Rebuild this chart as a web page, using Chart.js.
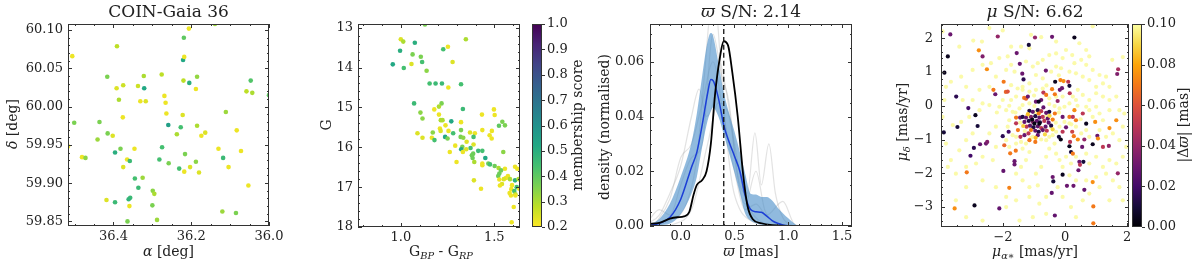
<!DOCTYPE html>
<html>
<head>
<meta charset="utf-8">
<script src="https://cdn.jsdelivr.net/npm/chart.js@4.4.0/dist/chart.umd.min.js"></script>
<style>
  body { margin: 0; background: #fff; }
  #wrap { position: relative; width: 1200px; height: 265px; }
  #wrap canvas { position: absolute; left: 0; top: 0; }
</style>
</head>
<body>
<div id="wrap">
  <canvas id="sky" width="1200" height="265"></canvas>
  <canvas id="cmd" width="1200" height="265"></canvas>
  <canvas id="cmdBar" width="1200" height="265"></canvas>
  <canvas id="plx" width="1200" height="265"></canvas>
  <canvas id="pm" width="1200" height="265"></canvas>
  <canvas id="pmBar" width="1200" height="265"></canvas>
</div>
<script>
// ---------- data ----------

// panel 1: sky positions, [ra, dec, membership score]
const skyStars = [
  [36.506,60.066,0.22],[36.391,60.079,0.28],[36.206,60.102,0.22],[36.139,60.108,0.32],
  [36.219,60.090,0.40],[36.221,60.061,0.52],[36.218,60.065,0.22],[36.416,60.039,0.36],
  [36.322,60.040,0.30],[36.276,60.042,0.28],[36.220,60.034,0.28],[36.205,60.031,0.50],
  [36.185,60.039,0.33],[36.047,60.034,0.42],[36.392,60.024,0.24],[36.375,60.028,0.26],
  [36.337,60.027,0.26],[36.321,60.024,0.52],[36.188,60.023,0.22],[36.058,60.020,0.28],
  [36.043,60.018,0.30],[36.000,60.015,0.40],[36.269,60.014,0.22],[36.386,60.009,0.30],
  [36.331,60.007,0.22],[36.317,60.007,0.24],[36.266,60.005,0.22],[36.264,59.991,0.22],
  [36.376,59.986,0.22],[36.222,59.989,0.24],[36.111,59.993,0.32],[36.501,59.979,0.36],
  [36.436,59.980,0.36],[36.259,59.976,0.55],[36.227,59.973,0.44],[36.185,59.975,0.30],
  [36.083,59.969,0.22],[36.415,59.965,0.36],[36.402,59.962,0.24],[36.237,59.964,0.30],
  [36.174,59.962,0.22],[36.164,59.966,0.24],[36.441,59.957,0.32],[36.517,59.948,0.22],
  [36.382,59.945,0.36],[36.346,59.945,0.22],[36.275,59.947,0.44],[36.130,59.945,0.22],
  [36.396,59.940,0.50],[36.216,59.938,0.36],[36.481,59.934,0.22],[36.472,59.933,0.34],
  [36.118,59.933,0.46],[36.072,59.942,0.22],[36.365,59.931,0.22],[36.358,59.929,0.46],
  [36.282,59.931,0.44],[36.258,59.926,0.36],[36.188,59.928,0.34],[36.375,59.921,0.24],
  [36.231,59.919,0.44],[36.203,59.921,0.24],[36.218,59.915,0.22],[36.180,59.914,0.24],
  [36.104,59.921,0.22],[36.325,59.907,0.32],[36.345,59.906,0.44],[36.336,59.894,0.46],
  [36.053,59.897,0.22],[36.299,59.890,0.34],[36.295,59.886,0.30],[36.418,59.878,0.24],
  [36.396,59.875,0.46],[36.357,59.881,0.46],[36.361,59.879,0.48],[36.359,59.870,0.22],
  [36.300,59.871,0.36],[36.120,59.863,0.32],[36.085,59.861,0.36],[36.364,59.850,0.36],
  [36.288,59.852,0.32]
];
const raTicks = [36.4, 36.2, 36.0];
const decTicks = [59.85, 59.90, 59.95, 60.00, 60.05, 60.10];

// panel 2: colour-magnitude diagram, [BP-RP, G, membership score]
const cmdStars = [
  [1.129,12.92,0.36],[1.000,13.29,0.24],[1.013,13.35,0.30],[1.075,13.38,0.50],[1.348,13.29,0.30],
  [1.252,13.48,0.22],[1.227,13.54,0.44],[0.996,13.58,0.50],[1.063,13.67,0.36],[1.107,13.73,0.36],
  [1.114,13.86,0.44],[1.277,13.86,0.24],[0.957,13.92,0.52],[1.057,13.91,0.24],[1.016,14.01,0.44],
  [1.138,14.08,0.34],[1.154,14.40,0.44],[1.186,14.40,0.46],[1.220,14.40,0.46],[1.254,14.50,0.22],
  [1.322,14.42,0.44],[1.071,14.90,0.46],[1.218,14.90,0.36],[1.204,14.98,0.30],[1.179,15.05,0.22],
  [1.332,15.04,0.46],[1.498,15.05,0.22],[1.105,15.13,0.34],[1.204,15.18,0.22],[1.434,15.18,0.22],
  [1.502,15.19,0.22],[1.116,15.28,0.34],[1.214,15.32,0.30],[1.223,15.32,0.30],[1.270,15.35,0.52],
  [1.322,15.37,0.22],[1.543,15.36,0.36],[1.557,15.45,0.36],[1.239,15.45,0.22],[1.525,15.46,0.40],
  [1.209,15.53,0.22],[1.213,15.59,0.24],[1.255,15.59,0.22],[1.322,15.57,0.36],[1.436,15.57,0.22],
  [1.487,15.59,0.22],[1.171,15.63,0.34],[1.280,15.65,0.44],[1.089,15.65,0.24],[1.370,15.63,0.24],
  [1.396,15.65,0.22],[1.475,15.70,0.22],[1.237,15.74,0.52],[1.320,15.74,0.36],[1.334,15.76,0.34],
  [1.389,15.74,0.44],[1.166,15.76,0.22],[1.116,15.76,0.24],[1.250,15.78,0.36],[1.180,15.82,0.44],
  [1.486,15.78,0.22],[1.352,15.86,0.24],[1.389,15.93,0.24],[1.291,15.96,0.22],[1.329,15.99,0.36],
  [1.373,16.02,0.44],[1.323,16.05,0.52],[1.350,16.05,0.24],[1.332,16.12,0.22],[1.414,16.09,0.46],
  [1.436,16.09,0.44],[1.548,16.12,0.34],[1.262,16.12,0.22],[1.387,16.16,0.38],[1.380,16.20,0.38],
  [1.384,16.27,0.38],[1.452,16.27,0.52],[1.393,16.37,0.30],[1.298,16.37,0.22],[1.436,16.41,0.22],
  [1.468,16.41,0.38],[1.477,16.43,0.44],[1.502,16.47,0.38],[1.436,16.45,0.22],[1.523,16.52,0.30],
  [1.557,16.54,0.22],[1.536,16.58,0.38],[1.611,16.49,0.22],[1.623,16.54,0.22],[1.527,16.66,0.38],
  [1.521,16.72,0.38],[1.573,16.72,0.22],[1.562,16.77,0.22],[1.551,16.80,0.24],[1.584,16.80,0.30],
  [1.611,16.83,0.50],[1.630,16.80,0.30],[1.391,16.83,0.24],[1.527,16.81,0.22],[1.541,16.92,0.24],
  [1.530,16.96,0.22],[1.595,16.95,0.22],[1.620,17.00,0.44],[1.634,17.04,0.22],[1.591,17.05,0.22],
  [1.429,17.04,0.22],[1.607,17.10,0.44],[1.582,17.15,0.22],[1.613,17.18,0.30],[1.589,17.21,0.22],
  [1.613,17.21,0.22],[1.604,17.50,0.22],[1.593,17.88,0.22]
];
const bprpTicks = [1.0, 1.5];
const gTicks = [13, 14, 15, 16, 17, 18];
const scoreTicks = [0.2, 0.3, 0.4, 0.5, 0.6, 0.7, 0.8, 0.9, 1.0];

// panel 3: parallax densities
const plxGrid    = [-0.3, -0.2, -0.1, 0.0, 0.1, 0.15, 0.2, 0.25, 0.28, 0.3, 0.35, 0.4, 0.45, 0.5, 0.55, 0.6, 0.65, 0.7, 0.75, 0.8, 0.85, 0.9, 0.95, 1.0, 1.05, 1.1, 1.6];
const bandHigh   = [0.0005, 0.0026, 0.0082, 0.0180, 0.0305, 0.0412, 0.0550, 0.0675, 0.0705, 0.0695, 0.0597, 0.0488, 0.0412, 0.0345, 0.0270, 0.0190, 0.0118, 0.0115, 0.0106, 0.0106, 0.0093, 0.0068, 0.0047, 0.0028, 0.0011, 0.0, 0.0];
const bandLow    = [0.0, 0.0003, 0.0009, 0.0043, 0.0118, 0.0180, 0.0290, 0.0385, 0.0420, 0.0433, 0.0400, 0.0335, 0.0265, 0.0195, 0.0120, 0.0045, 0.0020, 0.0010, 0.0005, 0.0001, 0.0, 0.0, 0.0, 0.0, 0.0, 0.0, 0.0];
const bandMedian = [0.0001, 0.0010, 0.0032, 0.0098, 0.0215, 0.0270, 0.0370, 0.0485, 0.0535, 0.0532, 0.0468, 0.0368, 0.0307, 0.0255, 0.0200, 0.0110, 0.0060, 0.0052, 0.0050, 0.0036, 0.0020, 0.0010, 0.0004, 0.0001, 0.0, 0.0, 0.0];
const memberKdeX = [-0.3, -0.2, -0.1, -0.03, 0.03, 0.08, 0.12, 0.15, 0.2, 0.24, 0.28, 0.32, 0.36, 0.40, 0.44, 0.48, 0.53, 0.58, 0.62, 0.67, 0.75, 0.85, 1.0, 1.6];
const memberKdeY = [0.0008, 0.0011, 0.0027, 0.0032, 0.0035, 0.0052, 0.0115, 0.0150, 0.0168, 0.0200, 0.0300, 0.0484, 0.0605, 0.0675, 0.0660, 0.0560, 0.0400, 0.0190, 0.0075, 0.0025, 0.0010, 0.0003, 0.0, 0.0];
const bootstrapKdes = [
  [[-0.3,0],[-0.1,0.002],[0.05,0.008],[0.15,0.025],[0.22,0.055],[0.28,0.08],[0.32,0.082],[0.37,0.06],[0.42,0.035],[0.48,0.015],[0.55,0.006],[0.65,0.002],[0.8,0]],
  [[-0.3,0.001],[-0.2,0.004],[-0.1,0.012],[0.0,0.022],[0.1,0.04],[0.17,0.05],[0.24,0.04],[0.3,0.045],[0.36,0.06],[0.42,0.05],[0.5,0.03],[0.6,0.01],[0.7,0.003],[0.85,0]],
  [[-0.1,0],[0.1,0.006],[0.25,0.03],[0.35,0.045],[0.45,0.04],[0.55,0.015],[0.62,0.012],[0.69,0.034],[0.75,0.015],[0.82,0.030],[0.88,0.012],[0.95,0.003],[1.05,0]],
  [[-0.25,0],[-0.1,0.01],[0.0,0.025],[0.1,0.03],[0.2,0.045],[0.3,0.06],[0.4,0.04],[0.5,0.02],[0.6,0.006],[0.7,0.008],[0.8,0.004],[0.95,0.009],[1.05,0.001],[1.1,0]],
  [[-0.3,0.002],[-0.2,0.006],[-0.1,0.004],[0.0,0.015],[0.1,0.025],[0.2,0.03],[0.3,0.07],[0.38,0.055],[0.45,0.045],[0.52,0.02],[0.6,0.008],[0.7,0.02],[0.78,0.006],[0.9,0]]
];
const plxMean = 0.40;
const plxTicks = [0.0, 0.5, 1.0, 1.5];
const densityTicks = [0.00, 0.02, 0.04, 0.06];

// panel 4: proper motions, [pmra, pmdec, |delta plx|]
const pmColoured = [
  [-3.70,2.11,0.03],[-3.78,1.46,0.005],[-3.89,0.98,0.005],[-3.91,-0.79,0.01],[-3.51,0.27,0.015],
  [-3.47,-0.63,0.01],[-3.12,-0.07,0.02],[-2.89,-0.28,0.005],[-2.82,-0.60,0.01],[-3.05,-1.48,0.02],
  [-2.66,1.46,0.035],[-2.78,1.64,0.075],[-2.52,1.08,0.075],[-2.74,-1.14,0.028],[-2.55,-1.12,0.03],
  [-2.51,-1.07,0.035],[-2.94,-1.25,0.015],[-3.17,-1.97,0.07],[-3.56,-3.04,0.075],[-2.92,-2.95,0.005],
  [-2.17,2.05,0.04],[-2.12,-3.04,0.028],[-1.98,0.71,0.07],[-1.91,0.41,0.065],[-1.85,0.42,0.06],
  [-2.25,0.34,0.03],[-2.31,0.47,0.07],[-2.01,-0.90,0.015],[-1.99,-1.93,0.028],[-1.96,-1.17,0.065],
  [-1.77,-1.41,0.07],[-1.80,-2.43,0.072],[-1.82,-0.77,0.02],[-1.63,-1.64,0.03],[-1.63,-1.74,0.03],
  [-1.56,1.56,0.03],[-1.46,1.24,0.03],[-1.38,0.95,0.03],[-1.34,0.78,0.015],[-1.17,1.80,0.01],
  [-0.97,2.02,0.04],[-0.42,2.04,0.03],[0.30,2.02,0.005],[-0.62,1.04,0.03],[-0.32,0.71,0.005],
  [-1.52,-0.72,0.07],[-1.58,-0.52,0.05],[-1.58,-0.35,0.07],[-1.45,-0.35,0.03],[-1.32,0.23,0.07],
  [-1.26,0.21,0.065],[-1.20,0.27,0.03],[-1.44,-0.92,0.05],[-1.31,-0.87,0.03],[-1.18,-0.82,0.05],
  [-1.15,-1.02,0.07],[-0.96,-1.07,0.07],[-0.77,0.17,0.03],[-0.94,0.12,0.03],[-0.85,0.12,0.005],
  [-0.70,0.39,0.05],[-0.61,0.32,0.07],[-0.42,0.49,0.072],[-0.33,0.34,0.07],[-0.15,0.76,0.072],
  [-0.05,0.73,0.075],[0.10,0.71,0.05],[0.14,0.59,0.01],[-0.10,0.52,0.03],[0.15,0.37,0.05],
  [-0.17,0.47,0.03],[-0.24,0.14,0.04],[-0.33,-0.23,0.07],[-0.08,-0.33,0.03],[0.14,-0.33,0.07],
  [0.25,-0.33,0.05],[0.35,-0.43,0.07],[0.30,-0.13,0.075],[0.57,-0.23,0.05],[0.68,-0.53,0.005],
  [0.97,-0.48,0.075],[-0.08,-0.77,0.05],[0.03,-0.64,0.03],[-0.20,-0.92,0.01],[-0.14,-1.00,0.003],
  [0.16,-1.07,0.05],[0.23,-0.77,0.055],[0.28,-0.90,0.07],[0.14,-1.20,0.005],[0.41,-1.00,0.075],
  [0.55,-1.22,0.03],[0.62,-1.00,0.04],[0.89,-1.14,0.005],[1.04,-0.89,0.03],[1.06,-0.97,0.075],
  [0.19,-1.37,0.01],[0.25,-1.42,0.07],[0.46,-1.66,0.03],[0.48,-1.75,0.05],[0.43,-1.91,0.03],
  [0.59,-1.66,0.01],[-0.08,-2.04,0.005],[-0.40,-2.11,0.03],[-0.38,-2.24,0.01],[-0.43,-2.58,0.028],
  [-0.33,-3.25,0.028],[0.06,-2.37,0.03],[0.27,-2.37,0.03],[0.62,-2.49,0.028],[0.89,-2.26,0.075],
  [0.91,-2.98,0.07],[0.91,-3.48,0.07],[1.22,-1.22,0.05],[1.41,-1.19,0.04],[1.43,-0.66,0.075],
  [1.65,-0.43,0.075],[1.70,-2.00,0.04],[1.71,1.08,0.045],[1.68,0.94,0.035],[-1.59,-1.33,0.07],
  // dense core
  [-1.15,-0.15,0.012],[-1.04,-0.18,0.028],[-0.88,-0.13,0.012],[-0.77,-0.16,0.05],[-0.61,-0.21,0.028],
  [-0.51,-0.18,0.012],[-1.37,-0.33,0.012],[-1.26,-0.35,0.028],[-1.10,-0.33,0.038],[-0.96,-0.31,0.012],
  [-0.83,-0.35,0.028],[-0.72,-0.33,0.05],[-0.56,-0.38,0.028],[-0.40,-0.41,0.072],[-1.31,-0.48,0.028],
  [-1.17,-0.45,0.012],[-1.04,-0.48,0.038],[-0.91,-0.45,0.028],[-0.81,-0.49,0.012],[-0.67,-0.45,0.05],
  [-0.53,-0.50,0.028],[-1.24,-0.62,0.05],[-1.13,-0.59,0.028],[-1.02,-0.64,0.012],[-0.88,-0.61,0.028],
  [-0.77,-0.66,0.05],[-0.63,-0.62,0.028],[-0.45,-0.59,0.012],[-1.10,-0.72,0.072],[-0.96,-0.74,0.028],
  [-0.85,-0.77,0.012],[-0.72,-0.72,0.028],[-0.59,-0.74,0.05],[-0.88,-0.87,0.028],[-0.99,-0.53,0.003],
  [-0.83,-0.53,0.003],[-1.06,-0.41,0.003],[-0.85,-0.23,0.072],[-0.70,-0.05,0.028],
  [-1.20,-0.25,0.085],[-0.65,-0.85,0.09],[-1.35,-0.60,0.088],[-0.50,-0.30,0.09],[-0.95,-0.95,0.085],[-0.40,-0.70,0.09]
];
// stars with |delta plx| >= 0.1 (top of the colour scale)
const pmFaint = [
  [-3.95,2.20],[-2.44,2.30],[-2.01,2.23],[-2.96,1.93],[-3.41,1.75],[-2.68,1.90],[-1.10,2.10],[-0.77,2.03],
  [-0.29,1.90],[0.89,2.35],[0.68,1.65],[0.46,1.85],[0.23,1.50],[0.78,1.46],[1.52,1.36],[1.86,1.44],
  [-1.15,1.70],[-1.42,1.75],[-1.74,1.75],[-1.85,1.46],[-2.12,1.41],[-2.39,1.26],[-2.66,1.21],[-2.98,1.06],
  [-3.35,0.86],[-3.68,0.71],[-3.84,0.56],[-3.19,0.56],[-2.76,0.47],[-2.44,0.56],[-2.23,0.86],[-1.90,1.06],
  [-1.74,1.21],[-1.63,1.01],[-1.26,1.31],[-1.04,1.16],[-0.88,1.26],[-0.72,1.36],[-0.51,1.50],[-0.29,1.55],
  [-0.08,1.41],[0.03,1.65],[0.30,1.26],[0.52,1.36],[0.68,1.21],[0.89,1.06],[1.11,0.91],[1.32,0.86],
  [1.43,0.56],[1.22,0.66],[1.00,0.56],[0.78,0.76],[0.57,0.86],[0.35,0.96],[0.14,1.01],[-0.13,1.11],
  [-0.29,1.16],[-0.45,1.01],[-0.72,0.81],[-0.94,0.91],[-1.15,0.66],[-1.37,0.56],[-1.53,0.51],[-1.74,0.61],
  [-2.01,0.17],[-2.12,-0.03],[-2.44,0.02],[-2.76,-0.13],[-3.09,-0.33],[-3.35,-0.48],[-3.62,-0.57],[-3.84,-1.12],
  [-3.68,-1.61],[-3.78,-1.81],[-3.52,-2.01],[-3.19,-1.81],[-2.87,-1.71],[-2.66,-1.51],[-2.33,-1.61],[-2.23,-1.22],
  [-2.44,-0.82],[-2.23,-0.62],[-1.90,-1.02],[-1.80,-1.22],[-1.58,-1.12],[-1.37,-1.27],[-1.15,-1.37],[-1.26,-1.61],
  [-1.42,-1.81],[-1.58,-2.01],[-1.37,-2.21],[-1.15,-2.41],[-0.94,-2.01],[-0.77,-1.81],[-0.61,-1.51],[-0.51,-1.27],
  [-0.34,-1.12],[-0.29,-1.42],[-0.18,-1.61],[-0.08,-1.81],[0.03,-1.51],[0.19,-1.71],[0.35,-1.51],[0.68,-1.42],
  [0.78,-1.71],[1.00,-1.51],[1.22,-1.81],[1.43,-1.61],[1.65,-1.71],[1.86,-1.51],[1.97,-1.22],[1.75,-1.02],
  [1.54,-0.82],[1.32,-0.92],[1.11,-0.72],[1.22,-0.43],[1.43,-0.13],[1.75,-0.13],[1.91,-0.23],[1.86,-0.62],
  [1.65,0.27],[1.43,0.17],[1.22,0.27],[1.00,0.37],[0.78,0.17],[0.68,-0.03],[0.57,0.32],[0.41,0.47],
  [0.35,0.17],[0.78,-0.13],[1.00,-0.03],[1.11,-0.23],[0.89,-0.33],[0.52,-0.82],[0.68,-0.72],[0.78,-0.92],
  [0.35,-0.62],[0.14,-0.52],[-0.02,-0.48],[-0.18,-0.62],[-0.29,-0.77],[-0.40,-0.87],[-0.51,-0.92],[-0.61,-1.02],
  [-0.77,-1.00],[-1.04,-0.92],[-1.26,-1.12],[-1.42,-1.07],[-1.58,-0.92],[-1.69,-0.87],[-1.85,-0.62],[-1.80,-0.43],
  [-1.69,-0.18],[-1.47,-0.08],[-1.37,0.02],[-1.15,0.07],[-0.99,-0.01],[-0.51,0.05],[-0.34,-0.01],[-0.18,-0.08],
  [-0.02,-0.03],[0.14,0.07],[0.25,0.27],[-0.08,0.27],[-0.29,0.27],[-0.51,0.22],[-0.72,0.51],[-0.94,0.47],
  [-1.15,0.42],[-1.37,0.47],[-1.58,0.27],[-1.74,0.17],[-1.90,-0.13],[-3.52,-2.80],[-3.19,-2.41],[-2.66,-2.21],
  [-2.23,-2.41],[-1.90,-2.70],[-1.58,-2.80],[-1.15,-2.70],[-0.83,-2.90],[-0.61,-3.20],[-1.04,-3.30],[-1.47,-3.40],
  [-1.90,-3.00],[-2.66,-3.40],[-3.19,-3.30],[-0.08,-2.70],[0.19,-3.00],[0.35,-3.30],[0.57,-2.80],[0.78,-2.60],
  [1.11,-2.41],[1.43,-2.80],[1.86,-2.80],[1.75,-2.41],[1.54,-2.21],[1.32,-2.01],[1.00,-2.11],[0.68,-2.21],
  [0.35,-2.21],[0.14,-2.06],[-0.24,-2.41],[-0.61,-2.70],[-0.88,-2.36],[-2.98,-0.82],[-3.19,-1.02],[-3.41,-1.32],
  [-3.95,-0.33],[-3.89,0.17],[-3.30,0.17],[-2.98,0.17],[-2.66,0.07],
  [-1.20,-0.30],[-0.70,-0.70],[-1.30,-0.75],[-0.60,-0.30],[-0.95,-0.20],[-1.10,-0.95],[-0.45,-0.65],[-1.45,-0.50],
  [-0.30,-0.50],[-1.60,-0.20],[-0.20,-0.20],[-1.00,0.30],[-0.60,0.60],[-0.20,0.90],[0.40,0.00],[0.50,-0.40],
  [-1.80,0.00],[-2.20,-0.20],[0.20,-0.55]
];
const pmraTicks = [-2, 0, 2];
const pmdecTicks = [-3, -2, -1, 0, 1, 2];
const dplxTicks = [0.00, 0.02, 0.04, 0.06, 0.08, 0.10];

// ---------- colour maps ----------
const VIRIDIS = ['#440154','#482475','#414487','#355f8d','#2a788e','#21918c','#22a884','#44bf70','#7ad151','#bddf26','#fde725'];
const INFERNO = ['#000004','#160b39','#420a68','#6a176e','#932667','#bc3754','#dd513a','#f37819','#fca50a','#f6d746','#fcffa4'];

function hexRgb(h) {
  return [1, 3, 5].map(i => parseInt(h.slice(i, i + 2), 16));
}
function cmap(stops, t) {
  t = Math.min(1, Math.max(0, t));
  const n = stops.length - 1;
  const i = Math.min(n - 1, Math.floor(t * n));
  const f = t * n - i;
  const a = hexRgb(stops[i]), b = hexRgb(stops[i + 1]);
  const c = a.map((v, k) => Math.round(v + (b[k] - v) * f));
  return `rgb(${c[0]},${c[1]},${c[2]})`;
}
const scoreColour = s => cmap(VIRIDIS, 1 - (s - 0.2) / 0.8);
const dplxColour = v => cmap(INFERNO, v / 0.1);

// ---------- shared bits ----------
Chart.defaults.font.family = '"DejaVu Serif", serif';

const TEXT = '#222';
const SPINE = '#333';
const FONT = '"DejaVu Serif"';
const minus = v => (v < 0 ? '\u2212' + Math.abs(v) : String(v));

// scale with fixed tick list; labels and marks are drawn by the frame plugin
function axis(min, max, ticks, extra) {
  return Object.assign({
    type: 'linear',
    min: min,
    max: max,
    grid: { display: false, drawTicks: false },
    border: { display: false },
    ticks: { display: false },
    afterBuildTicks: s => { s.ticks = ticks.map(v => ({ value: v })); }
  }, extra);
}
const xFit = { afterFit: s => { s.height = 22; } };
const yFit = { afterFit: s => { s.width = 40; } };

// text with italic / subscript pieces
function drawRich(ctx, parts, x, y, size, rot) {
  ctx.save();
  ctx.translate(x, y);
  ctx.rotate(rot || 0);
  ctx.textBaseline = 'middle';
  ctx.textAlign = 'left';
  ctx.fillStyle = TEXT;
  const fontOf = p => (p.it ? 'italic ' : '') + (p.sub ? size * 0.7 : size) + 'px ' + FONT;
  let w = 0;
  parts.forEach(p => { ctx.font = fontOf(p); w += ctx.measureText(p.t).width; });
  let cx = -w / 2;
  parts.forEach(p => {
    ctx.font = fontOf(p);
    ctx.fillText(p.t, cx, p.sub ? size * 0.3 : 0);
    cx += ctx.measureText(p.t).width;
  });
  ctx.restore();
}

// matplotlib-like box: spines on four sides, inward ticks, tick labels, axis labels
function frame(cfg) {
  return {
    id: 'frame',
    beforeDatasetsDraw(chart) {
      if (!cfg.gradient) return;
      const { ctx, chartArea: a } = chart;
      const g = ctx.createLinearGradient(0, a.bottom, 0, a.top);
      cfg.gradient.forEach((c, i, arr) => g.addColorStop(i / (arr.length - 1), c));
      ctx.save();
      ctx.fillStyle = g;
      ctx.fillRect(a.left, a.top, a.right - a.left, a.bottom - a.top);
      ctx.restore();
    },
    afterDraw(chart) {
      const { ctx, chartArea: a, scales } = chart;
      ctx.save();
      ctx.strokeStyle = SPINE;
      ctx.lineWidth = 1;
      ctx.strokeRect(a.left + 0.5, a.top + 0.5, a.right - a.left - 1, a.bottom - a.top - 1);

      const tickSet = (scale, minor) => {
        const major = scale.ticks.map(t => t.value);
        const out = major.map(v => [v, 4]);
        if (minor) {
          const lo = Math.min(scale.min, scale.max), hi = Math.max(scale.min, scale.max);
          for (let k = Math.ceil(lo / minor - 1e-6); k * minor <= hi + 1e-9; k++) {
            const v = k * minor;
            if (!major.some(m => Math.abs(m - v) < minor / 10)) out.push([v, 2]);
          }
        }
        return out;
      };
      ctx.beginPath();
      if (!cfg.gradient) {
        tickSet(scales.x, cfg.xMinor).forEach(([v, len]) => {
          const p = Math.round(scales.x.getPixelForValue(v)) + 0.5;
          ctx.moveTo(p, a.bottom); ctx.lineTo(p, a.bottom - len);
          ctx.moveTo(p, a.top); ctx.lineTo(p, a.top + len);
        });
        tickSet(scales.y, cfg.yMinor).forEach(([v, len]) => {
          const p = Math.round(scales.y.getPixelForValue(v)) + 0.5;
          ctx.moveTo(a.left, p); ctx.lineTo(a.left + len, p);
          ctx.moveTo(a.right, p); ctx.lineTo(a.right - len, p);
        });
      } else {
        scales.y.ticks.forEach(t => {
          const p = Math.round(scales.y.getPixelForValue(t.value)) + 0.5;
          ctx.moveTo(a.right, p); ctx.lineTo(a.right + 3, p);
        });
      }
      ctx.stroke();

      // tick labels
      ctx.fillStyle = TEXT;
      ctx.font = '13px ' + FONT;
      ctx.textBaseline = 'middle';
      if (!cfg.gradient) {
        ctx.textAlign = 'center';
        scales.x.ticks.forEach(t => ctx.fillText(cfg.xFmt(t.value), scales.x.getPixelForValue(t.value), a.bottom + 11));
        ctx.textAlign = 'right';
        scales.y.ticks.forEach(t => ctx.fillText(cfg.yFmt(t.value), a.left - (cfg.yGap || 5), scales.y.getPixelForValue(t.value)));
      } else {
        ctx.textAlign = 'left';
        scales.y.ticks.forEach(t => ctx.fillText(cfg.yFmt(t.value), a.right + 5, scales.y.getPixelForValue(t.value)));
      }
      ctx.restore();

      (cfg.labels || []).forEach(l => drawRich(ctx, l.parts, l.x, l.y, l.size || 14, l.rot));
    }
  };
}

const base = (padding) => ({
  responsive: false,
  animation: false,
  events: [],
  devicePixelRatio: 1,
  layout: { padding: padding },
  plugins: { legend: { display: false }, tooltip: { enabled: false } }
});
const UP = -Math.PI / 2;

// ---------- panel 1: sky ----------
new Chart(document.getElementById('sky'), {
  type: 'scatter',
  data: {
    datasets: [{
      data: skyStars.map(s => ({ x: s[0], y: s[1] })),
      pointBackgroundColor: skyStars.map(s => scoreColour(s[2])),
      pointBorderWidth: 0,
      pointRadius: 2.3
    }]
  },
  options: Object.assign(base({ left: 28, top: 24, right: 931, bottom: 17 }), {
    scales: {
      x: axis(36.0, 36.517, raTicks, Object.assign({ reverse: true }, xFit)),
      y: axis(59.844, 60.108, decTicks, yFit)
    }
  }),
  plugins: [frame({
    xMinor: 0.05, yMinor: 0.01,
    xFmt: v => v.toFixed(1), yFmt: v => v.toFixed(2), yGap: 5,
    labels: [
      { parts: [{ t: 'COIN-Gaia 36' }], x: 168.5, y: 12.5, size: 17 },
      { parts: [{ t: '\u03b4', it: true }, { t: ' [deg]' }], x: 13, y: 124, rot: UP },
      { parts: [{ t: '\u03b1', it: true }, { t: ' [deg]' }], x: 168.5, y: 252 }
    ]
  })]
});

// ---------- panel 2: CMD ----------
new Chart(document.getElementById('cmd'), {
  type: 'scatter',
  data: {
    datasets: [{
      data: cmdStars.map(s => ({ x: s[0], y: s[1] })),
      pointBackgroundColor: cmdStars.map(s => scoreColour(s[2])),
      pointBorderWidth: 0,
      pointRadius: 2.3
    }]
  },
  options: Object.assign(base({ left: 318, top: 24, right: 680, bottom: 16 }), {
    scales: {
      x: axis(0.771, 1.6375, bprpTicks, xFit),
      y: axis(12.908, 18.0, gTicks, Object.assign({ reverse: true }, yFit))
    }
  }),
  plugins: [frame({
    xMinor: 0.1, yMinor: 0.2,
    xFmt: v => v.toFixed(1), yFmt: v => String(v), yGap: 5,
    labels: [
      { parts: [{ t: 'G' }], x: 327, y: 125, rot: UP },
      { parts: [{ t: 'G' }, { t: 'BP', it: true, sub: true }, { t: ' - G' }, { t: 'RP', it: true, sub: true }], x: 441, y: 252 }
    ]
  })]
});

// colour bar for membership score
new Chart(document.getElementById('cmdBar'), {
  type: 'scatter',
  data: { datasets: [] },
  options: Object.assign(base({ left: 532, top: 24, right: 618, bottom: 38 }), {
    scales: {
      x: { display: false, min: 0, max: 1 },
      y: axis(0.2, 1.0, scoreTicks, Object.assign({ position: 'right' }, yFit))
    }
  }),
  plugins: [frame({
    gradient: VIRIDIS.slice().reverse(),
    yFmt: v => v.toFixed(1),
    labels: [{ parts: [{ t: 'membership score' }], x: 578, y: 125, rot: UP }]
  })]
});

// ---------- panel 3: parallax ----------
const plxDatasets = [
  { data: [{ x: plxMean, y: 0 }, { x: plxMean, y: 0.0738 }], borderColor: '#111', borderWidth: 1.3, borderDash: [5, 3] },
  { data: memberKdeX.map((x, i) => ({ x: x, y: memberKdeY[i] })), borderColor: '#000', borderWidth: 1.8 },
  { data: plxGrid.map((x, i) => ({ x: x, y: bandMedian[i] })), borderColor: '#1c3fd6', borderWidth: 1.5 },
  { data: plxGrid.map((x, i) => ({ x: x, y: bandHigh[i] })), borderWidth: 0, borderColor: 'rgba(0,0,0,0)',
    fill: '+1', backgroundColor: 'rgba(70,140,200,0.6)' },
  { data: plxGrid.map((x, i) => ({ x: x, y: bandLow[i] })), borderWidth: 0, borderColor: 'rgba(0,0,0,0)' }
].concat(bootstrapKdes.map(c => ({
  data: c.map(p => ({ x: p[0], y: p[1] })),
  borderColor: 'rgba(150,150,150,0.28)', borderWidth: 1.2
})));
plxDatasets.forEach(d => {
  d.showLine = true;
  d.pointRadius = 0;
  d.cubicInterpolationMode = 'monotone';
});

new Chart(document.getElementById('plx'), {
  type: 'scatter',
  data: { datasets: plxDatasets },
  options: Object.assign(base({ left: 610, top: 24, right: 348, bottom: 17 }), {
    scales: {
      x: axis(-0.286, 1.593, plxTicks, xFit),
      y: axis(0, 0.0738, densityTicks, yFit)
    }
  }),
  plugins: [frame({
    xMinor: 0.1, yMinor: 0.005,
    xFmt: v => v.toFixed(1), yFmt: v => v.toFixed(2), yGap: 6,
    labels: [
      { parts: [{ t: '\u03d6', it: true }, { t: ' S/N: 2.14' }], x: 751, y: 12.5, size: 17 },
      { parts: [{ t: 'density (normalised)' }], x: 605, y: 127, rot: UP },
      { parts: [{ t: '\u03d6', it: true }, { t: ' [mas]' }], x: 751, y: 252 }
    ]
  })]
});

// ---------- panel 4: proper motions ----------
new Chart(document.getElementById('pm'), {
  type: 'scatter',
  data: {
    datasets: [
      {
        data: pmColoured.map(s => ({ x: s[0], y: s[1] })),
        pointBackgroundColor: pmColoured.map(s => dplxColour(s[2])),
        pointBorderWidth: 0,
        pointRadius: 2.1
      },
      {
        data: pmFaint.map(s => ({ x: s[0], y: s[1] })),
        pointBackgroundColor: 'rgba(251,250,160,0.9)',
        pointBorderWidth: 0,
        pointRadius: 2.1
      }
    ]
  },
  options: Object.assign(base({ left: 901, top: 24, right: 71, bottom: 16 }), {
    scales: {
      x: axis(-4.0, 2.06, pmraTicks, xFit),
      y: axis(-3.59, 2.42, pmdecTicks, yFit)
    }
  }),
  plugins: [frame({
    xMinor: 0.5, yMinor: 0.2,
    xFmt: minus, yFmt: minus, yGap: 8,
    labels: [
      { parts: [{ t: '\u03bc', it: true }, { t: ' S/N: 6.62' }], x: 1035, y: 12.5, size: 17 },
      { parts: [{ t: '\u03bc', it: true }, { t: '\u03b4', it: true, sub: true }, { t: ' [mas/yr]' }], x: 903, y: 122, rot: UP },
      { parts: [{ t: '\u03bc', it: true }, { t: '\u03b1\u2217', it: true, sub: true }, { t: ' [mas/yr]' }], x: 1035, y: 252 }
    ]
  })]
});

// colour bar for |delta parallax|
new Chart(document.getElementById('pmBar'), {
  type: 'scatter',
  data: { datasets: [] },
  options: Object.assign(base({ left: 1132, top: 24, right: 18, bottom: 38 }), {
    scales: {
      x: { display: false, min: 0, max: 1 },
      y: axis(0, 0.1, dplxTicks, Object.assign({ position: 'right' }, yFit))
    }
  }),
  plugins: [frame({
    gradient: INFERNO,
    yFmt: v => v.toFixed(2),
    labels: [{ parts: [{ t: '|\u0394' }, { t: '\u03d6', it: true }, { t: '| [mas]' }], x: 1184, y: 125, rot: UP }]
  })]
});
</script>
</body>
</html>
